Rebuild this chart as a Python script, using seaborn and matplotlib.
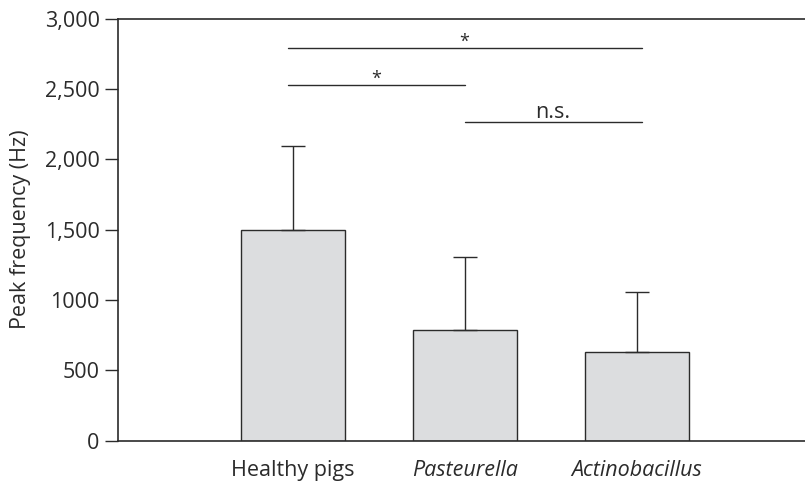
import numpy as np
import pandas as pd
import seaborn as sns
import matplotlib.pyplot as plt

# data
groups = ['Healthy pigs', 'Pasteurella', 'Actinobacillus']
peak_mean = [1500, 787, 631]
peak_sd = [594, 517, 429]

# significance brackets: (start group, end group, height, label)
sig_start = [0, 0, 1]
sig_end = [2, 1, 2]
sig_height = [2790, 2528, 2267]
sig_label = ['*', '*', 'n.s.']

df = pd.DataFrame({'group': groups, 'peak': peak_mean})

sns.set_style('white')
plt.rcParams['font.family'] = ['Open Sans', 'DejaVu Sans']

dark = '#2b2b2b'
fs = 15.5
fig = plt.figure(figsize=(8.05, 4.84), dpi=100)
ax = fig.add_axes([0.147, 0.0895, 0.853, 0.872])

sns.barplot(data=df, x='group', y='peak', color='#dcdddf', edgecolor=dark,
            linewidth=1.0, width=0.605, saturation=1, errorbar=None, ax=ax)

# one-sided error bars
ax.errorbar(np.arange(len(groups)), peak_mean,
            yerr=[np.zeros(len(groups)), peak_sd],
            fmt='none', ecolor=dark, elinewidth=1.0, capsize=8.5, capthick=1.0)

# significance lines
for s, e, h, lab in zip(sig_start, sig_end, sig_height, sig_label):
    x0 = s - 0.03 if s == 0 else s
    x1 = e + 0.03 if e == 2 else e
    ax.plot([x0, x1], [h, h], color=dark, lw=1.0)
    if lab == '*':
        ax.text((x0 + x1) / 2, h + 10, lab, ha='center', va='baseline', fontsize=13, color=dark)
    else:
        ax.text((x0 + x1) / 2, h + 28, lab, ha='center', va='baseline', fontsize=fs, color=dark)

ax.set_xlim(-1.014, 2.98)
ax.set_ylim(0, 3000)
ax.set_yticks([0, 500, 1000, 1500, 2000, 2500, 3000])
ax.set_yticklabels(['0', '500', '1000', '1,500', '2,000', '2,500', '3,000'])
ax.set_xlabel('')
ax.set_ylabel('Peak frequency (Hz)', fontsize=fs, labelpad=10, color=dark)

ax.tick_params(axis='y', length=9.5, width=1.0, color=dark, direction='out',
               labelsize=fs, pad=4, labelcolor=dark, left=True)
ax.tick_params(axis='x', length=0, labelsize=fs, pad=14, labelcolor=dark)
for lab in ax.get_xticklabels():
    if lab.get_text() != 'Healthy pigs':
        lab.set_style('italic')

for side in ['left', 'top', 'bottom']:
    ax.spines[side].set_color(dark)
    ax.spines[side].set_linewidth(1.2)
ax.spines['right'].set_visible(False)

fig.savefig('out.png', dpi=100)
